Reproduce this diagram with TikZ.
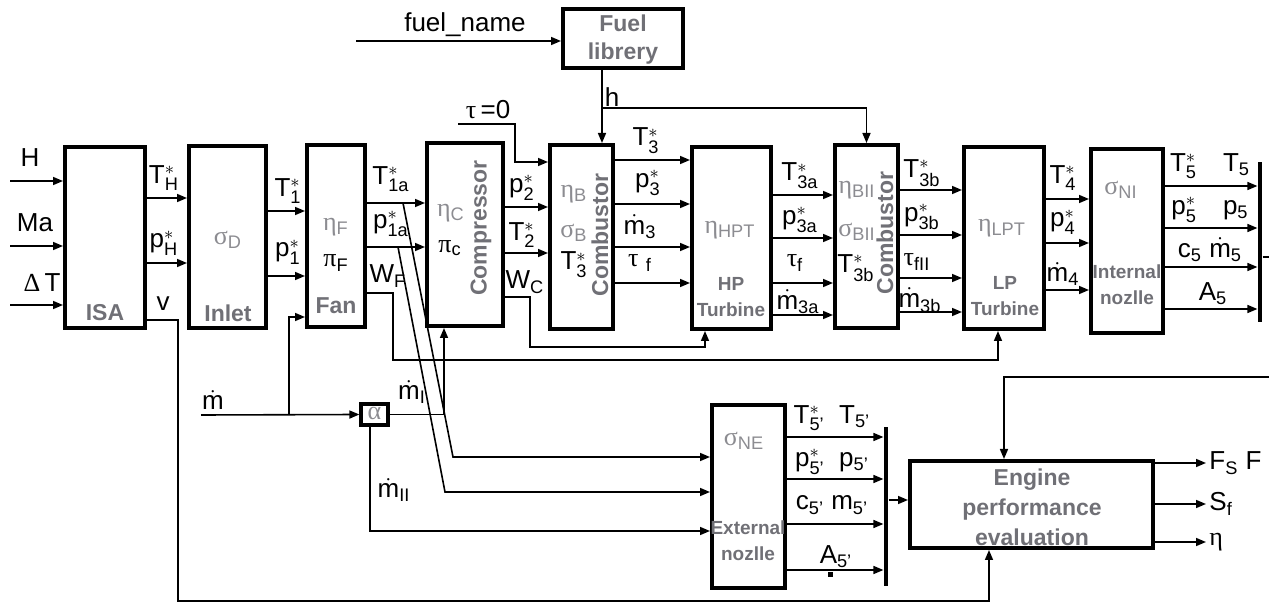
\documentclass[tikz,border=0pt]{standalone}
\usepackage{xcolor}
\usepackage{amsmath}
\usepackage{fontspec}
\setmainfont{Liberation Sans}
\newfontfamily\gk{Liberation Serif}
\usepackage{tikz}
\usetikzlibrary{arrows.meta,positioning,calc}
\definecolor{boxgray}{RGB}{112,112,118}
\definecolor{pargray}{RGB}{140,140,145}

\begin{document}
\begin{tikzpicture}[
  x=0.5pt, y=-0.5pt,
  font=\fontsize{13}{14}\selectfont,
  >={Triangle[length=5pt,width=4pt]},
  blk/.style={rectangle, draw=black, line width=2pt, inner sep=0pt},
  ttl/.style={font=\fontsize{11.5}{13}\selectfont\bfseries, text=boxgray, inner sep=0pt},
  sttl/.style={font=\fontsize{9.5}{11}\selectfont\bfseries, text=boxgray, inner sep=0pt},
  prm/.style={text=pargray, inner sep=0pt},
  lbl/.style={inner sep=0pt},
  sig/.style={line width=0.8pt},
  bar/.style={fill=black, inner sep=0pt, minimum width=2.2pt},
]
\useasboundingbox (0,0) rectangle (1269,603);
% blocks
\node[blk, minimum width=40pt, minimum height=90.5pt] (isa) at (105,237.5) {};
\node[blk, minimum width=38.5pt, minimum height=91pt] (inlet) at (227.5,237) {};
\node[blk, minimum width=29pt, minimum height=91pt] (fan) at (336,236) {};
\node[blk, minimum width=38pt, minimum height=91.5pt] (comp) at (465,234.5) {};
\node[blk, minimum width=31.5pt, minimum height=92pt] (combA) at (581.5,237) {};
\node[blk, minimum width=39.5pt, minimum height=91pt] (hpt) at (731.5,238) {};
\node[blk, minimum width=31.5pt, minimum height=91.5pt] (combB) at (866.5,236.5) {};
\node[blk, minimum width=40pt, minimum height=91pt] (lpt) at (1004,238) {};
\node[blk, minimum width=36pt, minimum height=92pt] (nozI) at (1127,241) {};
\node[blk, minimum width=60pt, minimum height=29.5pt] (fuel) at (623,38.5) {};
\node[blk, line width=1.6pt, minimum width=13.5pt, minimum height=10.5pt] (alpha) at (374.5,414.5) {};
\node[blk, minimum width=36.5pt, minimum height=91.5pt] (nozE) at (748.5,496.5) {};
\node[blk, minimum width=121.5pt, minimum height=43.5pt] (eng) at (1031.5,504.5) {};
\node[bar, minimum height=80pt] (barI) at (1260,242) {};
\node[bar, minimum height=79.5pt] (barE) at (886,506.5) {};

% block titles
\node[ttl] (tIsa) at (105,313) {ISA};
\node[ttl] (tInlet) at (228,313) {Inlet};
\node[ttl] (tFan) at (336,306) {Fan};
\node[ttl, rotate=90] (tComp) at (481,228) {Compressor};
\node[ttl, rotate=90] (tCombA) at (600,235) {Combustor};
\node[ttl, rotate=90] (tCombB) at (885,233) {Combustor};
\node[sttl, align=center] (tHpt) at (731,297) {HP\\[2pt]Turbine};
\node[sttl, align=center] (tLpt) at (1005,296) {LP\\[2pt]Turbine};
\node[sttl, align=center] (tNozI) at (1127,285) {Internal\\[2pt]nozlle};
\node[sttl, align=center] (tNozE) at (748,541) {External\\[2pt]nozlle};
\node[ttl, align=center] (tFuel) at (623,40) {Fuel\\[1pt]librery};
\node[ttl, align=center] (tEng) at (1032,507) {Engine\\[2pt]performance\\[2pt]evaluation};

% block parameters
\node[prm] (pD) at (228,240) {{\gk σ}\textsubscript{D}};
\node[prm] (pF) at (336,227) {{\gk η}\textsubscript{F}};
\node[lbl] (piF) at (336,263) {{\gk π}\textsubscript{F}};
\node[prm] (pC) at (451,213) {{\gk η}\textsubscript{C}};
\node[lbl] (piC) at (450,248) {{\gk π}\textsubscript{c}};
\node[prm] (pB) at (574,194) {{\gk η}\textsubscript{B}};
\node[prm] (sB) at (574,233) {{\gk σ}\textsubscript{B}};
\node[lbl] (tB) at (574,265) {$\mathrm{T}^{*}_{\mathrm{3}}$};
\node[prm] (pHpt) at (730,230) {{\gk η}\textsubscript{HPT}};
\node[prm] (pBII) at (857,190) {{\gk η}\textsubscript{BII}};
\node[prm] (sBII) at (857,232) {{\gk σ}\textsubscript{BII}};
\node[lbl] (tBII) at (856,268) {$\mathrm{T}^{*}_{\mathrm{3b}}$};
\node[prm] (pLpt) at (1002,228) {{\gk η}\textsubscript{LPT}};
\node[prm] (sNI) at (1121,190) {{\gk σ}\textsubscript{NI}};
\node[prm] (sNE) at (744,441) {{\gk σ}\textsubscript{NE}};
\node[prm] (pAlpha) at (374.5,413) {{\gk α}};

% input labels
\node[lbl] (lH) at (30,158) {H};
\node[lbl] (lMa) at (35,223) {Ma};
\node[lbl] (lDT) at (42,283) {{\gk Δ}\,T};
\node[lbl] (lFuel) at (465,25) {fuel\_name};
\node[lbl] (lTau) at (488,110) {{\gk τ}\,=0};
\node[lbl] (lh) at (612,97) {h};
\node[lbl] (lm) at (213,400) {$\dot{\mathrm{m}}$};
\node[lbl] (lmI) at (412,392) {$\dot{\mathrm{m}}_{\mathrm{I}}$};
\node[lbl] (lmII) at (394,490) {$\dot{\mathrm{m}}_{\mathrm{II}}$};

% signal labels
\node[lbl] (lTH) at (164,178) {$\mathrm{T}^{*}_{\mathrm{H}}$};
\node[lbl] (lpH) at (164,243) {$\mathrm{p}^{*}_{\mathrm{H}}$};
\node[lbl] (lv) at (163,304) {v};
\node[lbl] (lT1) at (288,191) {$\mathrm{T}^{*}_{\mathrm{1}}$};
\node[lbl] (lp1) at (288,252) {$\mathrm{p}^{*}_{\mathrm{1}}$};
\node[lbl] (lT1a) at (391,179) {$\mathrm{T}^{*}_{\mathrm{1a}}$};
\node[lbl] (lp1a) at (391,224) {$\mathrm{p}^{*}_{\mathrm{1a}}$};
\node[lbl] (lWF) at (388,276) {$\mathrm{W}_{\mathrm{F}}$};
\node[lbl] (lp2) at (522,188) {$\mathrm{p}^{*}_{\mathrm{2}}$};
\node[lbl] (lT2) at (522,235) {$\mathrm{T}^{*}_{\mathrm{2}}$};
\node[lbl] (lWC) at (525,282) {$\mathrm{W}_{\mathrm{C}}$};
\node[lbl] (lT3) at (646,141) {$\mathrm{T}^{*}_{\mathrm{3}}$};
\node[lbl] (lp3) at (648,183) {$\mathrm{p}^{*}_{\mathrm{3}}$};
\node[lbl] (lm3) at (640,227) {$\dot{\mathrm{m}}_{\mathrm{3}}$};
\node[lbl] (ltf) at (640,263) {{\gk τ}\;\textsubscript{f}};
\node[lbl] (lT3a) at (800,176) {$\mathrm{T}^{*}_{\mathrm{3a}}$};
\node[lbl] (lp3a) at (800,220) {$\mathrm{p}^{*}_{\mathrm{3a}}$};
\node[lbl] (ltf2) at (795,263) {{\gk τ}\textsubscript{f}};
\node[lbl] (lm3a) at (798,302) {$\dot{\mathrm{m}}_{\mathrm{3a}}$};
\node[lbl] (lT3b) at (922,173) {$\mathrm{T}^{*}_{\mathrm{3b}}$};
\node[lbl] (lp3b) at (922,217) {$\mathrm{p}^{*}_{\mathrm{3b}}$};
\node[lbl] (ltfII) at (917,262) {{\gk τ}\textsubscript{fII}};
\node[lbl] (lm3b) at (920,300) {$\dot{\mathrm{m}}_{\mathrm{3b}}$};
\node[lbl] (lT4) at (1063,178) {$\mathrm{T}^{*}_{\mathrm{4}}$};
\node[lbl] (lp4) at (1063,222) {$\mathrm{p}^{*}_{\mathrm{4}}$};
\node[lbl] (lm4) at (1063,274) {$\dot{\mathrm{m}}_{\mathrm{4}}$};
\node[lbl] (lT5) at (1210,166) {$\mathrm{T}^{*}_{\mathrm{5}}$\quad$\mathrm{T}_{\mathrm{5}}$};
\node[lbl] (lp5) at (1210,210) {$\mathrm{p}^{*}_{\mathrm{5}}$\quad$\mathrm{p}_{\mathrm{5}}$};
\node[lbl] (lc5) at (1210,250) {$\mathrm{c}_{\mathrm{5}}$\ $\dot{\mathrm{m}}_{\mathrm{5}}$};
\node[lbl] (lA5) at (1213,294) {$\mathrm{A}_{\mathrm{5}}$};
\node[lbl] (lT5e) at (832,418) {$\mathrm{T}^{*}_{\text{5'}}$\ \ $\mathrm{T}_{\text{5'}}$};
\node[lbl] (lp5e) at (832,462) {$\mathrm{p}^{*}_{\text{5'}}$\ \ $\mathrm{p}_{\text{5'}}$};
\node[lbl] (lc5e) at (832,505) {$\mathrm{c}_{\text{5'}}$\ $\mathrm{m}_{\text{5'}}$};
\node[lbl] (lA5e) at (836,557) {$\mathrm{A}_{\text{5'}}$};
\node[fill=black, inner sep=0pt, minimum size=2.5pt] (dotA) at (830,575) {};
\node[lbl, anchor=west] (lF) at (1209,463) {$\mathrm{F}_{\mathrm{S}}$ F};
\node[lbl, anchor=west] (lSf) at (1209,504) {$\mathrm{S}_{\mathrm{f}}$};
\node[lbl, anchor=west] (leta) at (1209,542) {{\gk η}};

% free ends
\coordinate (inH) at (10,181);
\coordinate (inMa) at (10,246);
\coordinate (inDT) at (10,305);
\coordinate (inFuel) at (356,41);
\coordinate (inTau) at (458,124);
\coordinate (hj) at (602,108);
\coordinate (inm) at (201,415);
\coordinate (mj) at (289,415);
\coordinate (dT) at (403,203);
\coordinate (dp) at (398,247);
\coordinate (inEng) at (1269,377);
\coordinate (tick) at (1269,257);
\coordinate (oF) at (1206,463);
\coordinate (oS) at (1206,504);
\coordinate (oEta) at (1206,542);

% connectors
\draw[sig,->] (inH) -- (isa.west |- inH);
\draw[sig,->] (inMa) -- (isa.west |- inMa);
\draw[sig,->] (inDT) -- (isa.west |- inDT);
\draw[sig,->] (inFuel) -- (fuel.west |- inFuel);
\draw[sig,->] (fuel.south -| hj) -- (combA.north -| hj);
\draw[sig,->] (hj) -| (combB.north);
\draw[sig,->] (inTau) -- (515,124) |- (combA.west |- 0,162);
\draw[sig,->] (isa.east |- 0,198) -- (inlet.west |- 0,198);
\draw[sig,->] (isa.east |- 0,263) -- (inlet.west |- 0,263);
\draw[sig,->] (isa.east |- 0,320) -- (178,320) -- (178,601) -| (eng.south -| 989,0);
\draw[sig,->] (inlet.east |- 0,211) -- (fan.west |- 0,211);
\draw[sig,->] (inlet.east |- 0,276) -- (fan.west |- 0,276);
\draw[sig,->] (inm) -- (alpha.west);
\draw[sig,->] (mj) |- (fan.west |- 0,317);
\draw[sig,->] (fan.east |- 0,203) -- (comp.west |- 0,203);
\draw[sig,->] (fan.east |- 0,247) -- (comp.west |- 0,247);
\draw[sig,->] (fan.east |- 0,293) -| (393,360) -| (lpt.south -| 998,0);
\draw[sig,->] (dT) -- (453,457) -- (nozE.west |- 0,457);
\draw[sig,->] (dp) -- (445,492) -- (nozE.west |- 0,492);
\draw[sig,->] (alpha.east) -| (comp.south -| 444,0);
\draw[sig,->] (alpha.south -| 370,0) |- (nozE.west |- 0,531);
\draw[sig,->] (comp.east |- 0,207) -- (combA.west |- 0,207);
\draw[sig,->] (comp.east |- 0,253) -- (combA.west |- 0,253);
\draw[sig,->] (comp.east |- 0,297) -| (530,347) -| (hpt.south -| 705,0);
\draw[sig,->] (combA.east |- 0,160) -- (hpt.west |- 0,160);
\draw[sig,->] (combA.east |- 0,204) -- (hpt.west |- 0,204);
\draw[sig,->] (combA.east |- 0,247) -- (hpt.west |- 0,247);
\draw[sig,->] (combA.east |- 0,283) -- (hpt.west |- 0,283);
\draw[sig,->] (hpt.east |- 0,195) -- (combB.west |- 0,195);
\draw[sig,->] (hpt.east |- 0,238) -- (combB.west |- 0,238);
\draw[sig,->] (hpt.east |- 0,283) -- (combB.west |- 0,283);
\draw[sig,->] (hpt.east |- 0,315) -- (combB.west |- 0,315);
\draw[sig,->] (combB.east |- 0,190) -- (lpt.west |- 0,190);
\draw[sig,->] (combB.east |- 0,235) -- (lpt.west |- 0,235);
\draw[sig,->] (combB.east |- 0,278) -- (lpt.west |- 0,278);
\draw[sig,->] (combB.east |- 0,312) -- (lpt.west |- 0,312);
\draw[sig,->] (lpt.east |- 0,199) -- (nozI.west |- 0,199);
\draw[sig,->] (lpt.east |- 0,243) -- (nozI.west |- 0,243);
\draw[sig,->] (lpt.east |- 0,290) -- (nozI.west |- 0,290);
\draw[sig,->] (nozI.east |- 0,186) -- (barI.west |- 0,186);
\draw[sig,->] (nozI.east |- 0,228) -- (barI.west |- 0,228);
\draw[sig,->] (nozI.east |- 0,267) -- (barI.west |- 0,267);
\draw[sig,->] (nozI.east |- 0,309) -- (barI.west |- 0,309);
\draw[sig] (barI.east |- tick) -- (tick);
\draw[sig,->] (nozE.east |- 0,437) -- (barE.west |- 0,437);
\draw[sig,->] (nozE.east |- 0,479) -- (barE.west |- 0,479);
\draw[sig,->] (nozE.east |- 0,524) -- (barE.west |- 0,524);
\draw[sig,->] (nozE.east |- 0,570) -- (barE.west |- 0,570);
\draw[sig,->] (barE.east |- 0,500) -- (eng.west |- 0,500);
\draw[sig,->] (inEng) -| (eng.north -| 1004,0);
\draw[sig,->] (eng.east |- oF) -- (oF);
\draw[sig,->] (eng.east |- oS) -- (oS);
\draw[sig,->] (eng.east |- oEta) -- (oEta);
\end{tikzpicture}
\end{document}
